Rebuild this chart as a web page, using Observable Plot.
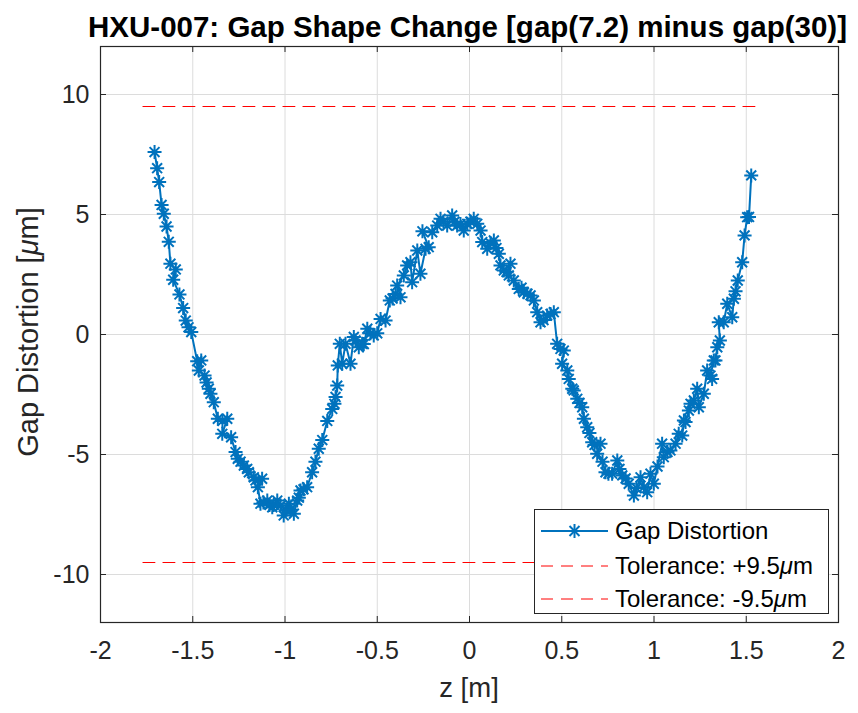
<!DOCTYPE html>
<html>
<head>
<meta charset="utf-8">
<script src="https://cdn.jsdelivr.net/npm/d3@7"></script>
<script src="https://cdn.jsdelivr.net/npm/@observablehq/plot@0.6"></script>
<style>
  html, body { margin: 0; padding: 0; background: #fff; }
  #wrap { position: relative; width: 858px; height: 713px; font-family: "Liberation Sans", Arial, Helvetica, sans-serif; color: #262626; overflow: hidden; }
  #title { height: 40px; line-height: 54px; text-align: center; font-weight: bold; font-size: 29.5px; color: #000; white-space: nowrap; padding-left: 77px; }
  .lbl { position: absolute; font-size: 27.5px; white-space: nowrap; color: #262626; }
  #legend { position: absolute; left: 534px; top: 509px; width: 295px; height: 105px; border: 1px solid #262626; background: #fff; box-sizing: border-box; }
  .row { position: absolute; left: 0; height: 34px; width: 100%; font-size: 24px; line-height: 34px; color: #000; }
  .row svg { position: absolute; left: 6px; top: 0; }
  .row span { position: absolute; left: 80px; top: 0; white-space: nowrap; }
  i.mu { font-style: italic; }
</style>
</head>
<body>
<div id="wrap">
  <div id="title">HXU-007: Gap Shape Change [gap(7.2) minus gap(30)]</div>
  <div id="chart"></div>
  <div class="lbl" id="xlabel" style="left:0;width:938px;text-align:center;top:672px;">z [m]</div>
  <div class="lbl" id="ylabel" style="left:28px;top:332px;font-size:29px;transform:translate(-50%,-50%) rotate(-90deg);">Gap Distortion [<i class="mu">μ</i>m]</div>
  <div id="legend">
    <div class="row" style="top:4px;"><svg width="67" height="34"><line x1="0" y1="17" x2="67" y2="17" stroke="#0072BD" stroke-width="2"/><g stroke="#0072BD" stroke-width="2"><line x1="26.5" y1="17" x2="40.5" y2="17"/><line x1="33.5" y1="10" x2="33.5" y2="24"/><line x1="28.5" y1="12" x2="38.5" y2="22"/><line x1="28.5" y1="22" x2="38.5" y2="12"/></g></svg><span>Gap Distortion</span></div>
    <div class="row" style="top:39px;"><svg width="67" height="34"><line x1="0" y1="17" x2="67" y2="17" stroke="#ff0000" stroke-width="1" stroke-dasharray="12,8"/></svg><span>Tolerance: +9.5<i class="mu">μ</i>m</span></div>
    <div class="row" style="top:72px;"><svg width="67" height="34"><line x1="0" y1="17" x2="67" y2="17" stroke="#ff0000" stroke-width="1" stroke-dasharray="12,8"/></svg><span>Tolerance: -9.5<i class="mu">μ</i>m</span></div>
  </div>
</div>
<script>
// Measured gap distortion (z in m, distortion in µm), in acquisition order
const zPos = [
-1.707,-1.693,-1.682,-1.669,-1.657,-1.642,-1.630,-1.621,-1.592,-1.606,
-1.572,-1.552,-1.538,-1.523,-1.508,-1.476,-1.454,-1.467,-1.436,-1.425,
-1.413,-1.404,-1.386,-1.364,-1.339,-1.313,-1.340,-1.292,-1.268,-1.256,
-1.241,-1.223,-1.205,-1.196,-1.169,-1.160,-1.124,-1.147,-1.133,-1.117,
-1.096,-1.084,-1.069,-1.061,-1.042,-1.024,-1.007,-0.992,-0.979,-0.970,
-0.952,-0.934,-0.925,-0.916,-0.900,-0.880,-0.853,-0.835,-0.817,-0.798,
-0.771,-0.744,-0.732,-0.726,-0.717,-0.714,-0.703,-0.690,-0.672,-0.645,
-0.627,-0.618,-0.600,-0.582,-0.573,-0.554,-0.537,-0.519,-0.500,-0.482,
-0.455,-0.432,-0.417,-0.401,-0.374,-0.392,-0.356,-0.338,-0.320,-0.311,
-0.283,-0.266,-0.238,-0.221,-0.255,-0.202,-0.175,-0.157,-0.141,-0.121,
-0.094,-0.081,-0.067,-0.049,-0.031,-0.012,0.005,0.023,0.042,0.060,
0.069,0.096,0.114,0.132,0.146,0.159,0.168,0.186,0.201,0.222,
0.213,0.240,0.267,0.282,0.294,0.314,0.331,0.349,0.367,0.385,
0.401,0.421,0.439,0.457,0.475,0.493,0.511,0.502,0.530,0.538,
0.557,0.565,0.584,0.596,0.611,0.620,0.638,0.650,0.665,0.678,
0.710,0.692,0.721,0.737,0.753,0.773,0.801,0.813,0.828,0.846,
0.863,0.891,0.905,0.927,0.945,0.963,0.981,0.999,1.019,1.044,
1.053,1.073,1.089,1.117,1.134,1.153,1.162,1.171,1.189,1.198,
1.216,1.234,1.243,1.270,1.288,1.315,1.306,1.324,1.333,1.343,
1.357,1.351,1.378,1.397,1.424,1.433,1.442,1.454,1.478,1.491,
1.505,1.515,1.527
];
const gapDistortion = [
7.60,6.93,6.35,5.40,5.03,4.50,3.86,2.95,2.71,2.28,
1.67,1.10,0.58,0.30,0.10,-1.11,-1.08,-1.50,-1.71,-2.00,
-2.26,-2.47,-2.82,-3.51,-3.60,-3.51,-4.14,-4.28,-4.90,-5.18,
-5.30,-5.46,-5.60,-5.74,-5.95,-6.08,-6.01,-6.36,-7.05,-7.00,
-6.92,-7.10,-7.20,-7.10,-6.92,-7.13,-7.54,-7.30,-7.05,-7.30,
-7.47,-6.92,-6.80,-6.50,-6.45,-6.36,-5.74,-5.30,-4.76,-4.40,
-3.60,-3.10,-2.89,-2.60,-2.13,-1.29,-0.39,-1.22,-0.39,-1.22,
-0.10,-0.25,-0.53,-0.39,-0.40,0.24,0.05,-0.04,0.05,0.65,
0.58,1.42,1.50,1.69,1.55,2.04,2.46,2.88,3.01,2.18,
3.50,2.53,3.57,3.64,4.30,4.26,4.54,4.82,4.70,4.54,
4.96,4.70,4.54,4.60,4.33,4.61,4.70,4.82,4.61,4.33,
3.85,3.57,3.80,3.92,3.60,3.36,2.88,2.67,2.60,2.95,
2.46,2.25,1.90,1.95,1.76,1.70,1.63,1.42,0.93,0.51,
0.60,0.79,0.85,0.93,-0.39,-0.60,-0.67,-1.22,-1.50,-1.85,
-2.26,-2.33,-2.68,-2.85,-3.03,-3.51,-3.86,-4.10,-4.49,-4.60,
-4.55,-4.97,-5.30,-5.74,-5.80,-5.80,-5.25,-5.60,-5.87,-6.00,
-6.22,-6.71,-6.40,-5.95,-6.36,-6.57,-5.80,-6.22,-5.50,-4.55,
-5.11,-4.90,-4.83,-4.55,-4.14,-4.21,-3.58,-3.65,-3.17,-2.89,
-2.75,-2.26,-3.03,-2.47,-1.50,-1.85,-1.71,-1.08,-1.08,-0.53,
-0.25,0.51,0.51,1.28,0.72,1.49,1.80,2.25,3.01,4.13,
4.89,4.90,6.63
];
const tolZ = [-1.77, 1.57];
const tolUpper = 9.5;
const tolLower = -9.5;
const xTicks = [-2, -1.5, -1, -0.5, 0, 0.5, 1, 1.5, 2];
const yTicks = [-10, -5, 0, 5, 10];
const xDomain = [-2, 2];
const yDomain = [-12, 12];

const data = zPos.map((z, i) => ({z, g: gapDistortion[i]}));
const upper = tolZ.map(z => ({z, g: tolUpper}));
const lower = tolZ.map(z => ({z, g: tolLower}));

const asterisk8 = {
  draw(ctx, size) {
    const r = Math.sqrt(size / Math.PI);
    const d = r * Math.SQRT1_2;
    ctx.moveTo(-r, 0); ctx.lineTo(r, 0);
    ctx.moveTo(0, -r); ctx.lineTo(0, r);
    ctx.moveTo(-d, -d); ctx.lineTo(d, d);
    ctx.moveTo(-d, d); ctx.lineTo(d, -d);
  }
};

const W = 858, H = 673;
const mt = 6, mb = 91, ml = 100, mr = 20;
const fh = H - mt - mb, fw = W - ml - mr;
const blue = "#0072BD";

const chart = Plot.plot({
  width: W, height: H,
  marginTop: mt, marginBottom: mb, marginLeft: ml, marginRight: mr,
  style: {fontFamily: "Liberation Sans, Arial, sans-serif", fontSize: "25px", color: "#262626", background: "white", overflow: "visible"},
  x: {domain: xDomain, ticks: xTicks, label: null},
  y: {domain: yDomain, ticks: yTicks, label: null},
  marks: [
    Plot.gridX(xTicks, {stroke: "#dcdcdc", strokeOpacity: 1, strokeWidth: 1}),
    Plot.gridY(yTicks, {stroke: "#dcdcdc", strokeOpacity: 1, strokeWidth: 1}),
    Plot.line(upper, {x: "z", y: "g", stroke: "#ff0000", strokeWidth: 1, strokeDasharray: "12,8"}),
    Plot.line(lower, {x: "z", y: "g", stroke: "#ff0000", strokeWidth: 1, strokeDasharray: "12,8"}),
    Plot.line(data, {x: "z", y: "g", stroke: blue, strokeWidth: 2, curve: "linear"}),
    Plot.dot(data, {x: "z", y: "g", symbol: asterisk8, r: 7, stroke: blue, strokeWidth: 2, fill: "none"}),
    Plot.tickX(xTicks, {x: d => d, insetTop: fh - 6, stroke: "#262626"}),
    Plot.tickX(xTicks, {x: d => d, insetBottom: fh - 6, stroke: "#262626"}),
    Plot.tickY(yTicks, {y: d => d, insetRight: fw - 6, stroke: "#262626"}),
    Plot.tickY(yTicks, {y: d => d, insetLeft: fw - 6, stroke: "#262626"}),
    Plot.frame({stroke: "#262626", strokeWidth: 1.2}),
    Plot.axisX(xTicks, {tickSize: 0, tickPadding: 19, fontSize: 25, label: null, tickFormat: d => String(d)}),
    Plot.axisY(yTicks, {tickSize: 0, tickPadding: 11, fontSize: 25, label: null, tickFormat: d => String(d)})
  ]
});
document.getElementById("chart").appendChild(chart);
</script>
</body>
</html>
